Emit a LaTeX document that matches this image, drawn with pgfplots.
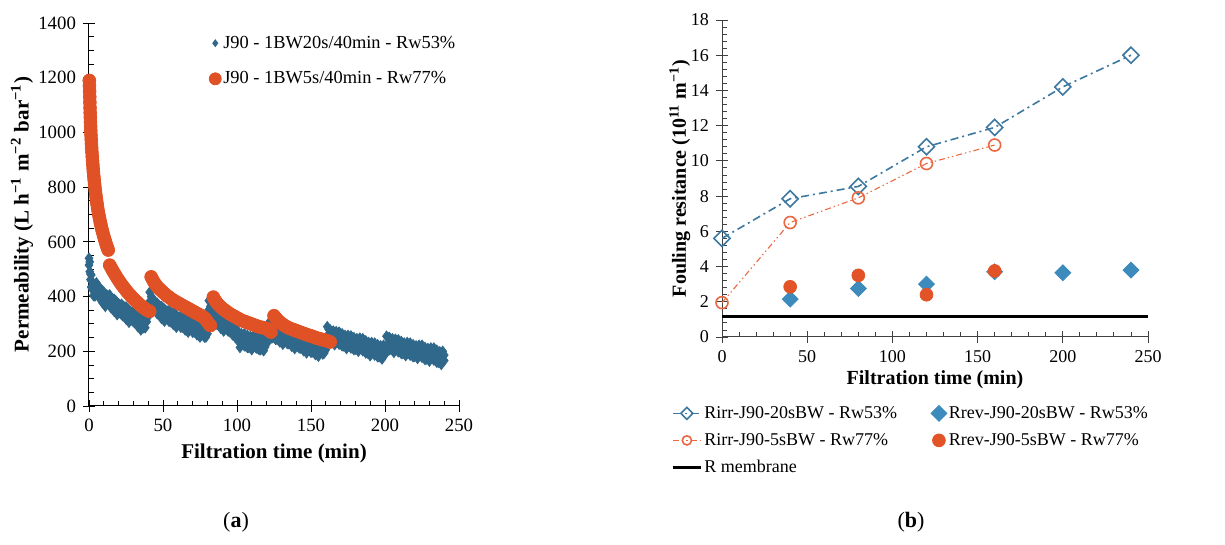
\documentclass[border=0pt]{standalone}
\usepackage{fontspec}
\setmainfont{Liberation Serif}
\usepackage{pgfplots}
\pgfplotsset{compat=1.18}
\usepackage{pgfplotstable}
\definecolor{lblue}{RGB}{47,104,138}
\definecolor{lorange}{RGB}{224,82,38}
\definecolor{rblue}{RGB}{61,139,189}
\definecolor{rblueo}{RGB}{61,120,160}
\definecolor{rorange}{RGB}{226,84,40}
\definecolor{rorangeo}{RGB}{234,104,66}

\pgfplotstableread{
t hi lo
0 540 515
0.5 527 491
1 482 462
1.5 479 435
2 454 428
3 448 404
4 428 402
5 450 422
6 440 402
7 432 396
8 427 407
9 422 378
10 416 390
11 408 364
12 406 380
13 402 374
14 406 368
15 394 358
16 390 370
17 390 346
18 385 359
19 378 334
20 374 348
21 368 340
22 372 334
23 365 329
24 361 341
25 362 318
26 356 330
27 350 306
28 346 320
29 342 314
30 346 308
31 340 304
32 334 314
33 334 290
34 328 302
35 322 278
36 316 290
37 314 286
38 324 286
39 344 308
40 347 327
41 416 382
42 400 374
43 394 350
44 376 350
45 374 346
46 376 338
47 370 334
48 364 344
49 364 320
50 358 332
51 354 310
52 348 322
53 346 318
54 348 310
55 344 308
56 338 318
57 342 298
58 336 310
59 332 288
60 326 300
61 324 296
62 326 288
63 324 288
64 318 298
65 322 278
66 316 290
67 314 270
68 308 282
69 306 278
70 308 270
71 306 270
72 300 280
73 304 260
74 298 272
75 296 252
76 290 264
77 288 260
78 290 252
79 288 252
80 284 264
81 385 352
82 364 338
83 356 312
84 336 310
85 336 308
86 338 300
87 334 298
88 328 308
89 328 284
90 322 296
91 318 274
92 312 286
93 310 282
94 312 274
95 308 272
96 302 282
97 304 260
98 298 272
99 294 250
100 278 252
101 264 236
102 252 214
103 264 228
104 246 226
105 264 220
106 246 220
107 258 214
108 240 214
109 254 226
110 244 206
111 256 220
112 238 218
113 256 212
114 238 212
115 250 206
116 232 206
117 246 218
118 240 202
119 252 216
120 248 228
121 300 270
122 294 268
123 292 248
124 276 250
125 280 252
126 282 244
127 280 244
128 274 254
129 278 234
130 272 246
131 270 226
132 264 238
133 264 236
134 266 228
135 264 228
136 258 238
137 262 218
138 256 230
139 254 210
140 248 222
141 248 220
142 250 212
143 248 212
144 242 222
145 246 202
146 240 214
147 238 194
148 232 206
149 232 204
150 234 196
151 234 198
152 228 208
153 232 188
154 226 200
155 226 182
156 222 196
157 224 196
158 228 190
159 230 194
160 226 206
161 290 256
162 280 254
163 278 234
164 262 236
165 274 246
166 262 224
167 272 236
168 254 234
169 270 226
170 254 228
171 264 220
172 246 220
173 258 230
174 248 210
175 258 222
176 240 220
177 256 212
178 240 214
179 250 206
180 234 208
181 246 218
182 238 200
183 248 212
184 230 210
185 246 202
186 228 202
187 238 194
188 220 194
189 232 204
190 222 184
191 232 196
192 214 194
193 230 186
194 214 188
195 224 180
196 206 180
197 220 192
198 210 172
199 222 186
200 208 188
201 255 220
202 250 224
203 250 206
204 234 208
205 246 218
206 234 196
207 244 208
208 226 206
209 242 198
210 226 200
211 236 192
212 218 192
213 230 202
214 222 184
215 232 196
216 214 194
217 230 186
218 214 188
219 224 180
220 208 182
221 220 192
222 212 174
223 222 186
224 206 186
225 222 178
226 204 178
227 214 170
228 198 172
229 210 182
230 202 164
231 212 176
232 196 176
233 212 168
234 194 168
235 204 160
236 186 160
237 198 170
238 190 152
239 200 164
240 186 166
}\blueperm

\pgfplotstableread{
t y
0.2 1190
0.3 1170
0.4 1150
0.5 1130
0.6 1110
0.7 1090
0.8 1072
0.9 1055
1.0 1038
1.1 1022
1.2 1006
1.35 990
1.5 974
1.65 958
1.8 943
2.0 928
2.2 912
2.4 897
2.6 882
2.8 868
3.0 855
3.25 840
3.5 826
3.75 812
4.0 800
4.3 786
4.6 772
4.9 759
5.2 747
5.5 736
5.8 725
6.2 712
6.6 700
7.0 689
7.4 678
7.8 668
8.2 658
8.6 649
9.0 640
9.5 630
10.0 620
10.5 611
11.0 602
11.5 593
12.0 585
12.5 577
13.0 570
14 515
15 505
16 495
17 486
18 477
19 468
20 460
21 452
22 444
23 437
24 430
25 423
26 416
27 410
28 404
29 398
30 392
31 387
32 382
33 377
34 372
35 367
36 363
37 359
38 355
39 351
40 348
41 346
42 472
43 462
44 452
45 444
46 437
47 431
48 426
49 421
50 416
51 411
52 406
53 402
54 398
55 394
56 390
57 386
58 383
59 380
60 377
61 374
62 371
63 368
64 365
65 362
66 359
67 356
68 353
69 350
70 347
71 344
72 341
73 338
74 335
75 332
76 329
77 326
78 322
79 316
80 308
81 300
82 294
84 398
85 388
86 380
87 373
88 367
89 362
90 357
91 353
92 349
93 345
94 341
95 337
96 334
97 331
98 328
99 325
100 322
101 319
102 316
103 313
104 311
105 309
106 307
107 305
108 303
109 301
110 299
111 297
112 295
113 293
114 291
115 289
116 288
117 287
118 286
119 285
120 284
121 280
122 274
123 270
125 330
126 323
127 317
128 311
129 306
130 302
131 298
132 294
133 291
134 288
135 285
136 283
137 281
138 279
139 277
140 275
141 273
142 271
143 269
144 267
145 265
146 263
147 261
148 259
149 258
150 256
151 254
152 252
153 250
154 248
155 247
156 245
157 244
158 242
159 241
160 240
161 238
162 236
163 234
}\orangeperm

\pgfplotstableread{
t r
0 5.6
40 7.85
80 8.55
120 10.8
160 11.9
200 14.2
240 16.0
}\rirrA

\pgfplotstableread{
t r
40 2.15
80 2.75
120 3.0
160 3.7
200 3.65
240 3.8
}\rrevA

\pgfplotstableread{
t r
0 1.95
40 6.5
80 7.9
120 9.85
160 10.9
}\rirrB

\pgfplotstableread{
t r
40 2.85
80 3.5
120 2.4
160 3.75
}\rrevB

\pgfplotstableread{
t r
0 1.15
250 1.15
}\rmem

\begin{document}
\begin{tikzpicture}[x=1pt,y=1pt]
\path[use as bounding box] (0,0) rectangle (612.5,272.5);

\pgfplotsset{
  common/.style={
    scale only axis, anchor=south west,
    axis x line*=bottom, axis y line*=left,
    tick align=center, major tick length=6pt, minor tick length=2.5pt,
    every minor x tick/.append style={yshift=1.25pt},
    every minor y tick/.append style={xshift=1.25pt},
    ticklabel style={font=\fontsize{9}{10}\selectfont},
    /pgf/number format/assume math mode=true,
    /pgf/number format/1000 sep={},
    label style={font=\fontsize{10}{12}\selectfont\bfseries},
    legend cell align=left,
  }
}

% ---------- (a) ----------
\begin{axis}[common,
  at={(44.5pt,69.5pt)}, width=185pt, height=191.5pt,
  xmin=0, xmax=250, ymin=0, ymax=1400,
  xtick={0,50,...,250}, ytick={0,200,...,1400},
  minor x tick num=4, minor y tick num=3,
  axis line style={-, black, line width=0.5pt},
  tick style={black, line width=0.45pt},
  ticklabel style={font=\fontsize{9.4}{10}\selectfont},
  label style={font=\fontsize{10.5}{12}\selectfont\bfseries},
  xlabel={Filtration time (min)},
  ylabel={Permeability (L h\textsuperscript{−1} m\textsuperscript{−2} bar\textsuperscript{−1})},
  xlabel style={at={(axis description cs:0.5,-0.1227)}, anchor=center},
  ylabel style={at={(axis description cs:-0.181,0.5)}, anchor=center},
  legend style={at={(axis description cs:0.324,0.977)}, anchor=north west,
    draw=none, fill=none, inner sep=0pt, row sep=6.8pt,
    font=\fontsize{9.2}{10}\selectfont,
    nodes={inner sep=1pt, text height=7pt, text depth=2pt}},
  legend image code/.code={\draw[mark repeat=2,mark phase=2,#1] plot coordinates {(0pt,0pt) (3.5pt,0pt) (7pt,0pt)};},
]
\addplot[only marks, mark=diamond*, mark size=2.6pt, color=lblue,
  legend image post style={mark size=1.7pt}] table[x=t,y=hi] {\blueperm};
\addlegendentry{J90 - 1BW20s/40min - Rw53\%}
\addplot[only marks, mark=diamond*, mark size=2.6pt, color=lblue, forget plot] table[x=t,y=lo] {\blueperm};
\addplot[only marks, mark=*, mark size=3.2pt, color=lorange,
  legend image post style={mark size=3pt}] table[x=t,y=y] {\orangeperm};
\addlegendentry{J90 - 1BW5s/40min - Rw77\%}
\end{axis}

% ---------- (b) ----------
\begin{axis}[common,
  at={(361pt,104pt)}, width=213pt, height=158.5pt,
  xmin=0, xmax=250, ymin=0, ymax=18,
  xtick={0,50,...,250}, ytick={0,2,...,18},
  minor x tick num=4, minor y tick num=4,
  axis line style={-, black!75, line width=0.5pt},
  tick style={black!75, line width=0.45pt},
  xlabel={Filtration time (min)},
  ylabel={Fouling resitance (10\textsuperscript{11} m\textsuperscript{−1})},
  xlabel style={at={(axis description cs:0.5,-0.1356)}, anchor=center},
  ylabel style={at={(axis description cs:-0.099,0.5)}, anchor=center},
  legend columns=2,
  legend style={at={(axis description cs:-0.1197,-0.205)}, anchor=north west,
    draw=none, fill=none, inner sep=0pt, row sep=2.5pt,
    font=\fontsize{9}{10}\selectfont,
    nodes={inner sep=1pt, text height=7pt, text depth=2pt},
    /tikz/every even column/.append style={column sep=16pt}},
  legend image code/.code={\draw[mark repeat=2,mark phase=2,#1] plot coordinates {(0pt,0pt) (7pt,0pt) (14pt,0pt)};},
]
\addplot[color=rblueo, line width=0.8pt, dash pattern=on 4pt off 2pt on 1pt off 2pt,
  mark=square, mark size=2.85pt, mark options={rotate=45, solid, fill=white, line width=0.8pt},
  legend image post style={mark size=2.1pt}] table[x=t,y=r] {\rirrA};
\addlegendentry{Rirr-J90-20sBW - Rw53\%}
\addplot[only marks, color=rblue, mark=square*, mark size=2.8pt, mark options={rotate=45}] table[x=t,y=r] {\rrevA};
\addlegendentry{Rrev-J90-20sBW - Rw53\%}
\addplot[color=rorangeo, line width=0.55pt, dash pattern=on 3pt off 1.5pt on 0.7pt off 1.5pt on 0.7pt off 1.5pt,
  mark=o, mark size=3pt, mark options={solid, fill=white, line width=0.8pt},
  legend image post style={mark size=2.3pt}] table[x=t,y=r] {\rirrB};
\addlegendentry{Rirr-J90-5sBW - Rw77\%}
\addplot[only marks, color=rorange, mark=*, mark size=3.2pt] table[x=t,y=r] {\rrevB};
\addlegendentry{Rrev-J90-5sBW - Rw77\%}
\addplot[black, line width=1.5pt] table[x=t,y=r] {\rmem};
\addlegendentry{R membrane}
\end{axis}

\node[font=\fontsize{11}{12}\selectfont] at (118,11.5) {(\textbf{a})};
\node[font=\fontsize{11}{12}\selectfont] at (455.5,11.5) {(\textbf{b})};
\end{tikzpicture}
\end{document}
